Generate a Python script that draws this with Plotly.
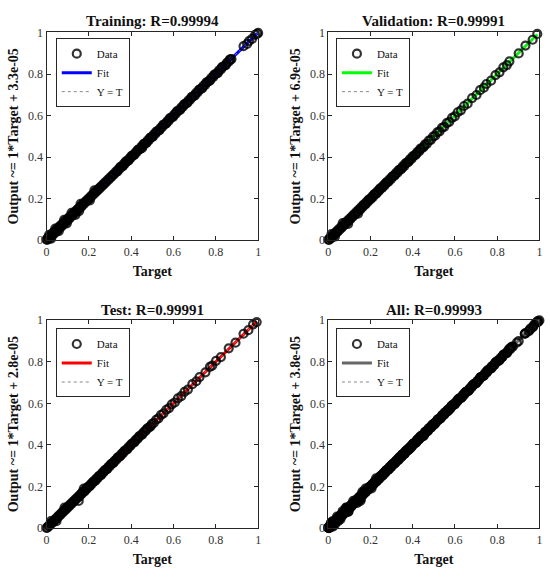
import plotly.graph_objects as go

# panel info
panel_names = ["Training", "Validation", "Test", "All"]
r_values = ["0.99994", "0.99991", "0.99991", "0.99993"]
fit_slope = [1, 1, 1, 1]
fit_offset = [3.3e-05, 6.9e-05, 2.8e-05, 3.8e-05]
offset_labels = ["3.3e-05", "6.9e-05", "2.8e-05", "3.8e-05"]
fit_colors = ["#0000ff", "#00ff00", "#ff0000", "#666666"]
tick_vals = [0, 0.2, 0.4, 0.6, 0.8, 1]

# training set
train_target = [
    0.000, 0.003, 0.007, 0.010, 0.014, 0.018, 0.021, 0.025, 0.029, 0.033,
    0.036, 0.040, 0.044, 0.048, 0.052, 0.055, 0.059, 0.063, 0.067, 0.071,
    0.075, 0.079, 0.083, 0.087, 0.091, 0.096, 0.100, 0.104, 0.108, 0.112,
    0.117, 0.121, 0.125, 0.130, 0.134, 0.139, 0.143, 0.148, 0.152, 0.157,
    0.162, 0.166, 0.171, 0.176, 0.181, 0.186, 0.191, 0.196, 0.201, 0.206,
    0.211, 0.216, 0.222, 0.227, 0.232, 0.238, 0.243, 0.249, 0.254, 0.260,
    0.266, 0.271, 0.277, 0.283, 0.289, 0.295, 0.301, 0.307, 0.313, 0.319,
    0.326, 0.332, 0.338, 0.345, 0.351, 0.358, 0.364, 0.371, 0.378, 0.384,
    0.391, 0.398, 0.405, 0.412, 0.419, 0.426, 0.433, 0.440, 0.447, 0.455,
    0.462, 0.469, 0.477, 0.484, 0.492, 0.499, 0.507, 0.515, 0.522, 0.530,
    0.538, 0.546, 0.554, 0.562, 0.570, 0.578, 0.586, 0.594, 0.603, 0.611,
    0.619, 0.628, 0.636, 0.645, 0.653, 0.662, 0.670, 0.679, 0.688, 0.697,
    0.706, 0.714, 0.723, 0.732, 0.741, 0.750, 0.759, 0.768, 0.778, 0.787,
    0.796, 0.805, 0.815, 0.824, 0.833, 0.843, 0.852, 0.861, 0.869, 0.874,
    0.931, 0.948, 0.957, 0.971, 0.986, 0.995, 1.000,
    0.012, 0.022, 0.041, 0.058, 0.083, 0.096, 0.118, 0.137, 0.154, 0.161,
    0.205, 0.226, 0.452,
    0.335, 0.348, 0.361, 0.374, 0.388, 0.401, 0.416, 0.430, 0.444, 0.458,
    0.473, 0.488, 0.503, 0.518, 0.534, 0.550, 0.566, 0.582, 0.599, 0.615,
    0.632, 0.649, 0.666, 0.684, 0.701, 0.719, 0.736, 0.754, 0.773, 0.791,
    0.810, 0.828, 0.847, 0.865,
]
train_output = [
    0.004, 0.001, 0.012, 0.006, 0.019, 0.013, 0.025, 0.021, 0.034, 0.029,
    0.040, 0.036, 0.049, 0.044, 0.056, 0.051, 0.064, 0.059, 0.071, 0.067,
    0.079, 0.075, 0.087, 0.083, 0.095, 0.092, 0.104, 0.100, 0.111, 0.109,
    0.120, 0.118, 0.128, 0.127, 0.137, 0.136, 0.146, 0.145, 0.155, 0.154,
    0.164, 0.163, 0.174, 0.173, 0.183, 0.184, 0.193, 0.194, 0.203, 0.204,
    0.213, 0.214, 0.224, 0.225, 0.234, 0.236, 0.245, 0.247, 0.256, 0.258,
    0.268, 0.269, 0.279, 0.281, 0.291, 0.293, 0.303, 0.305, 0.315, 0.317,
    0.328, 0.330, 0.340, 0.343, 0.353, 0.356, 0.366, 0.369, 0.380, 0.382,
    0.393, 0.396, 0.407, 0.410, 0.421, 0.424, 0.435, 0.438, 0.449, 0.453,
    0.464, 0.467, 0.479, 0.482, 0.494, 0.497, 0.509, 0.513, 0.524, 0.528,
    0.540, 0.544, 0.556, 0.560, 0.572, 0.576, 0.588, 0.592, 0.605, 0.609,
    0.621, 0.626, 0.638, 0.643, 0.655, 0.660, 0.672, 0.677, 0.690, 0.695,
    0.708, 0.712, 0.725, 0.730, 0.743, 0.748, 0.761, 0.766, 0.780, 0.785,
    0.798, 0.803, 0.817, 0.822, 0.835, 0.841, 0.854, 0.859, 0.871, 0.872,
    0.934, 0.945, 0.959, 0.969, 0.988, 0.993, 0.998,
    0.026, 0.008, 0.056, 0.044, 0.098, 0.081, 0.132, 0.122, 0.140, 0.175,
    0.192, 0.240, 0.444,
    0.331, 0.352, 0.357, 0.378, 0.384, 0.405, 0.412, 0.434, 0.440, 0.462,
    0.469, 0.492, 0.499, 0.522, 0.530, 0.554, 0.562, 0.586, 0.595, 0.619,
    0.628, 0.653, 0.662, 0.688, 0.697, 0.723, 0.732, 0.758, 0.769, 0.795,
    0.806, 0.832, 0.843, 0.868,
]

# validation set
val_target = [
    0.000, 0.004, 0.008, 0.012, 0.016, 0.020, 0.025, 0.029, 0.033, 0.038,
    0.042, 0.047, 0.051, 0.056, 0.061, 0.065, 0.070, 0.075, 0.080, 0.085,
    0.090, 0.095, 0.100, 0.106, 0.111, 0.116, 0.122, 0.127, 0.133, 0.139,
    0.144, 0.150, 0.156, 0.162, 0.168, 0.174, 0.180, 0.187, 0.193, 0.199,
    0.206, 0.212, 0.219, 0.226, 0.232, 0.239, 0.246, 0.253, 0.260, 0.267,
    0.275, 0.282, 0.289, 0.297, 0.304, 0.312, 0.320, 0.328, 0.336, 0.344,
    0.352, 0.360, 0.369, 0.377, 0.386, 0.394, 0.403, 0.412, 0.421, 0.430,
    0.439, 0.448, 0.458, 0.467, 0.476, 0.486, 0.496, 0.506, 0.516, 0.527,
    0.538, 0.549, 0.561, 0.573, 0.586, 0.599, 0.613, 0.628, 0.643, 0.660,
    0.681, 0.702, 0.719, 0.737, 0.749, 0.771, 0.792, 0.811, 0.829, 0.846,
    0.858, 0.902, 0.934, 0.968, 0.990,
    0.015, 0.031, 0.068, 0.094, 0.141,
    0.153, 0.165, 0.177, 0.190, 0.203, 0.216, 0.229, 0.243, 0.256, 0.271,
    0.286, 0.300, 0.316, 0.332, 0.348, 0.364, 0.381, 0.398, 0.416, 0.434,
    0.453,
]
val_output = [
    0.003, 0.002, 0.011, 0.009, 0.019, 0.017, 0.028, 0.026, 0.036, 0.035,
    0.045, 0.044, 0.054, 0.053, 0.064, 0.062, 0.073, 0.072, 0.083, 0.082,
    0.093, 0.092, 0.103, 0.103, 0.114, 0.113, 0.125, 0.124, 0.136, 0.136,
    0.147, 0.147, 0.159, 0.159, 0.171, 0.171, 0.183, 0.184, 0.196, 0.196,
    0.209, 0.209, 0.222, 0.223, 0.235, 0.236, 0.249, 0.250, 0.263, 0.264,
    0.278, 0.279, 0.292, 0.294, 0.307, 0.309, 0.323, 0.325, 0.339, 0.341,
    0.355, 0.357, 0.372, 0.374, 0.389, 0.391, 0.406, 0.409, 0.424, 0.427,
    0.442, 0.445, 0.461, 0.464, 0.479, 0.483, 0.499, 0.503, 0.519, 0.524,
    0.541, 0.546, 0.564, 0.570, 0.589, 0.596, 0.616, 0.625, 0.646, 0.657,
    0.684, 0.699, 0.722, 0.734, 0.752, 0.768, 0.795, 0.808, 0.832, 0.843,
    0.861, 0.899, 0.937, 0.965, 0.993,
    0.029, 0.017, 0.082, 0.079, 0.128,
    0.151, 0.168, 0.175, 0.193, 0.201, 0.219, 0.227, 0.246, 0.254, 0.274,
    0.284, 0.303, 0.314, 0.335, 0.346, 0.367, 0.379, 0.401, 0.414, 0.437,
    0.451,
]

# test set
test_target = [
    0.000, 0.004, 0.009, 0.013, 0.017, 0.022, 0.026, 0.031, 0.035, 0.040,
    0.044, 0.049, 0.054, 0.058, 0.063, 0.068, 0.073, 0.078, 0.083, 0.088,
    0.093, 0.098, 0.103, 0.109, 0.114, 0.119, 0.125, 0.130, 0.136, 0.141,
    0.147, 0.153, 0.159, 0.165, 0.171, 0.177, 0.183, 0.189, 0.195, 0.202,
    0.208, 0.214, 0.221, 0.228, 0.234, 0.241, 0.248, 0.255, 0.262, 0.269,
    0.276, 0.284, 0.291, 0.298, 0.306, 0.314, 0.321, 0.329, 0.337, 0.345,
    0.353, 0.361, 0.370, 0.378, 0.386, 0.395, 0.404, 0.412, 0.421, 0.430,
    0.439, 0.449, 0.458, 0.467, 0.477, 0.487, 0.497, 0.507, 0.518, 0.529,
    0.541, 0.553, 0.566, 0.579, 0.592, 0.606, 0.621, 0.637, 0.652, 0.668,
    0.689, 0.708, 0.723, 0.751, 0.772, 0.783, 0.801, 0.824, 0.861, 0.893,
    0.931, 0.954, 0.976, 0.993,
    0.021, 0.047, 0.085, 0.152, 0.176,
    0.156, 0.168, 0.180, 0.192, 0.205, 0.218, 0.231, 0.245, 0.258, 0.272,
    0.287, 0.302, 0.317, 0.333, 0.349, 0.365, 0.382, 0.399, 0.417, 0.435,
    0.453, 0.472, 0.492,
]
test_output = [
    0.002, 0.003, 0.011, 0.012, 0.020, 0.021, 0.029, 0.030, 0.038, 0.039,
    0.047, 0.048, 0.057, 0.057, 0.066, 0.067, 0.076, 0.077, 0.086, 0.087,
    0.096, 0.097, 0.106, 0.108, 0.117, 0.118, 0.128, 0.129, 0.139, 0.140,
    0.150, 0.152, 0.162, 0.164, 0.174, 0.176, 0.186, 0.188, 0.198, 0.201,
    0.211, 0.213, 0.224, 0.227, 0.237, 0.240, 0.251, 0.254, 0.265, 0.268,
    0.279, 0.283, 0.294, 0.297, 0.309, 0.313, 0.324, 0.328, 0.340, 0.344,
    0.356, 0.360, 0.373, 0.377, 0.389, 0.394, 0.407, 0.411, 0.424, 0.429,
    0.442, 0.448, 0.461, 0.466, 0.480, 0.486, 0.500, 0.506, 0.521, 0.528,
    0.544, 0.552, 0.569, 0.577, 0.595, 0.604, 0.624, 0.635, 0.655, 0.666,
    0.692, 0.706, 0.726, 0.749, 0.775, 0.781, 0.804, 0.822, 0.864, 0.891,
    0.934, 0.951, 0.979, 0.990,
    0.035, 0.034, 0.099, 0.131, 0.190,
    0.154, 0.171, 0.178, 0.195, 0.203, 0.221, 0.229, 0.248, 0.256, 0.275,
    0.285, 0.305, 0.315, 0.336, 0.347, 0.368, 0.380, 0.402, 0.415, 0.438,
    0.451, 0.475, 0.490,
]

# all = the three sets together
all_target = train_target + val_target + test_target
all_output = train_output + val_output + test_output

targets = [train_target, val_target, test_target, all_target]
outputs = [train_output, val_output, test_output, all_output]

x_domains = [[0.080, 0.469], [0.598, 0.986], [0.080, 0.469], [0.598, 0.986]]
y_domains = [[0.588, 0.955], [0.588, 0.955], [0.079, 0.447], [0.079, 0.447]]
legend_pos = [(0.097, 0.945), (0.612, 0.945), (0.097, 0.432), (0.612, 0.432)]
title_y = [0.976, 0.976, 0.464, 0.464]

serif = "Liberation Serif"
axis_col = "#262626"

fig = go.Figure()
layout = dict(
    width=550,
    height=580,
    margin=dict(l=0, r=0, t=0, b=0),
    paper_bgcolor="white",
    plot_bgcolor="white",
    font=dict(family=serif, color=axis_col),
    annotations=[],
)

for i in range(4):
    n = i + 1
    suffix = "" if n == 1 else str(n)
    xa, ya = "x" + suffix, "y" + suffix
    leg = "legend" + suffix
    t = targets[i]
    o = outputs[i]
    fx = [min(t), max(t)]
    fy = [fit_slope[i] * v + fit_offset[i] for v in fx]

    fig.add_trace(go.Scatter(
        x=fx, y=fy, mode="lines", name="Fit",
        line=dict(color=fit_colors[i], width=3),
        xaxis=xa, yaxis=ya, legend=leg, legendrank=2,
    ))
    fig.add_trace(go.Scatter(
        x=fx, y=fx, mode="lines", name="Y = T",
        line=dict(color="#888888", width=1, dash="dot"),
        xaxis=xa, yaxis=ya, legend=leg, legendrank=3,
    ))
    fig.add_trace(go.Scatter(
        x=t, y=o, mode="markers", name="Data",
        marker=dict(symbol="circle-open", size=8, color="rgba(0,0,0,0.8)",
                    line=dict(width=2.2)),
        cliponaxis=False,
        xaxis=xa, yaxis=ya, legend=leg, legendrank=1,
    ))

    common = dict(
        range=[0, 1], tickvals=tick_vals, ticks="inside", ticklen=4,
        tickcolor=axis_col, showline=True, linecolor=axis_col, linewidth=1,
        mirror="ticks", showgrid=False, zeroline=False,
        tickfont=dict(family=serif, size=12, color="#333333"),
    )
    layout["xaxis" + suffix] = dict(
        common, domain=x_domains[i], anchor=ya,
        title=dict(text="Target", standoff=8,
                   font=dict(family=serif, size=14, weight="bold", color="#111111")),
    )
    layout["yaxis" + suffix] = dict(
        common, domain=y_domains[i], anchor=xa,
        title=dict(text="Output ~= 1*Target + " + offset_labels[i], standoff=6,
                   font=dict(family=serif, size=14, weight="bold", color="#111111")),
    )
    layout[leg] = dict(
        x=legend_pos[i][0], y=legend_pos[i][1], xanchor="left", yanchor="top",
        bgcolor="white", bordercolor=axis_col, borderwidth=1,
        font=dict(family=serif, size=11, color="#111111"),
        tracegroupgap=0, itemwidth=30,
    )
    layout["annotations"].append(dict(
        text=panel_names[i] + ": R=" + r_values[i],
        x=sum(x_domains[i]) / 2, y=title_y[i], xref="paper", yref="paper",
        xanchor="center", yanchor="middle", showarrow=False,
        font=dict(family=serif, size=15, weight="bold", color="#111111"),
    ))

fig.update_layout(layout)
fig.write_html(
    "out.html",
    config={"displayModeBar": False},
    post_script="document.body.style.margin='0';document.body.style.overflow='hidden';",
)
